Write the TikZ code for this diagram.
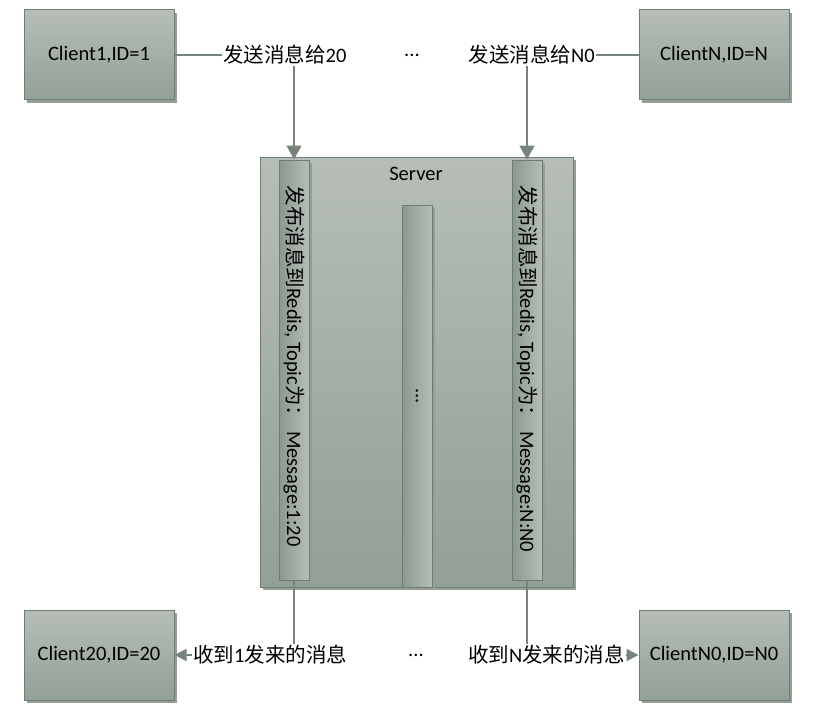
\documentclass[tikz,border=0pt]{standalone}
\usepackage{fontspec}
\setmainfont{Carlito}
\newfontfamily\cjk{Noto Sans CJK SC}
\usetikzlibrary{arrows.meta,shadows}

\definecolor{boxtop}{RGB}{182,190,183}
\definecolor{boxbot}{RGB}{146,160,150}
\definecolor{bardark}{RGB}{138,153,143}
\definecolor{barlight}{RGB}{182,190,184}
\definecolor{edgec}{RGB}{110,125,115}
\definecolor{linec}{RGB}{118,132,123}
\definecolor{shadowc}{RGB}{150,158,152}

\begin{document}
\begin{tikzpicture}[x=1pt,y=-1pt,
    every node/.style={font=\fontsize{20.5}{24}\selectfont},
    client/.style={draw=edgec,line width=1pt,top color=boxtop,bottom color=boxbot,
        minimum width=150pt,minimum height=90pt,
        drop shadow={shadow xshift=3pt,shadow yshift=-3pt,fill=shadowc,opacity=1}},
    bar/.style={draw=edgec,line width=1pt,left color=bardark,right color=barlight,
        minimum width=30pt,
        drop shadow={shadow xshift=3pt,shadow yshift=-3pt,fill=shadowc,opacity=1}},
    msg/.style={inner sep=1pt},
    link/.style={draw=linec,line width=1.6pt}]
    \useasboundingbox (0,0) rectangle (836,725);
    % CLIENTS
    \node[client] (client1) at (99,55) {Client1,ID=1};
    \node[client] (clientN) at (714,55) {ClientN,ID=N};
    \node[client] (client20) at (99,655) {Client20,ID=20};
    \node[client] (clientN0) at (714,655) {ClientN0,ID=N0};
    % SERVER
    \node[client,minimum width=313pt,minimum height=430pt] (server) at (416.5,372) {};
    \node (srvname) at (416,174) {Server};
    \node[bar,minimum height=420pt] (barL) at (294,370) {};
    \node[bar,minimum height=420pt] (barR) at (527,370) {};
    \node[bar,minimum height=382pt] (barM) at (417,396) {};
    \node[rotate=-90,anchor=west] (pubL) at (294,182) {{\cjk 发布消息到}Redis, Topic{\cjk 为：}\ Message:1:20};
    \node[rotate=-90,anchor=west] (pubR) at (527,182) {{\cjk 发布消息到}Redis, Topic{\cjk 为：}\ Message:N:N0};
    \node[rotate=-90] (dotsM) at (barM.center) {...};
    % SEND
    \node[msg,anchor=west] (send1) at (222,55) {{\cjk 发送消息给}20};
    \node[msg,anchor=east] (sendN) at (596,55) {{\cjk 发送消息给}N0};
    \node (dotsT) at (412,55) {...};
    \draw[link] (client1) -- (send1);
    \draw[link] (sendN) -- (clientN);
    \draw[link,-{Triangle[length=14pt,width=15pt]}] (send1.south -| barL.north) -- (barL.north);
    \draw[link,-{Triangle[length=14pt,width=15pt]}] (sendN.south -| barR.north) -- (barR.north);
    % RECEIVE
    \node[msg,anchor=west] (recv1) at (192,655) {{\cjk 收到}1{\cjk 发来的消息}};
    \node[msg,anchor=east] (recvN) at (626,655) {{\cjk 收到}N{\cjk 发来的消息}};
    \node (dotsB) at (416,655) {...};
    \draw[link] (barL.south) -- (barL.south |- recv1.north);
    \draw[link] (barR.south) -- (barR.south |- recvN.north);
    \draw[link,-{Triangle[length=12pt,width=12pt]}] (recv1) -- (client20);
    \draw[link,-{Triangle[length=12pt,width=12pt]}] (recvN) -- (clientN0);
\end{tikzpicture}
\end{document}
